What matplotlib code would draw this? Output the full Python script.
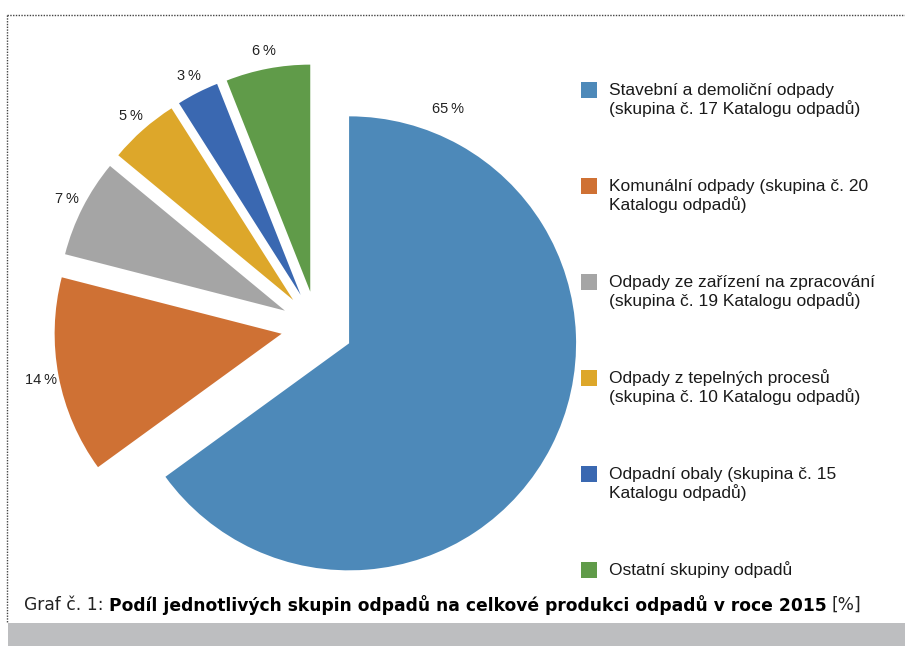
import matplotlib
matplotlib.use('Agg')
import matplotlib.pyplot as plt
from matplotlib.patches import Rectangle
import numpy as np

# ---- data ----
categories = [
    "Stavební a demoliční odpady\n(skupina č. 17 Katalogu odpadů)",
    "Komunální odpady (skupina č. 20\nKatalogu odpadů)",
    "Odpady ze zařízení na zpracování\n(skupina č. 19 Katalogu odpadů)",
    "Odpady z tepelných procesů\n(skupina č. 10 Katalogu odpadů)",
    "Odpadní obaly (skupina č. 15\nKatalogu odpadů)",
    "Ostatní skupiny odpadů",
]
values = [65, 14, 7, 5, 3, 6]
colors = ["#4D89B9", "#CF7134", "#A5A5A5", "#DDA72A", "#3A68B1", "#609B49"]
caption_prefix = "Graf č. 1:"
caption_bold = "Podíl jednotlivých skupin odpadů na celkové produkci odpadů v roce 2015"
caption_suffix = "[%]"

W, H = 905, 646
fig = plt.figure(figsize=(W / 100, H / 100), dpi=100)
ax = fig.add_axes([0, 0, 1, 1])

R = 227
cx, cy = 317, H - 327
expl = 36

lbl_font = ['Liberation Sans', 'DejaVu Sans']
wedges, texts = ax.pie(
    values, colors=colors, startangle=90, counterclock=False,
    explode=[expl] * len(values), radius=R, center=(cx, cy),
    labels=[f"{v}\u2009%" for v in values], labeldistance=1.08,
    wedgeprops={'linewidth': 0}, frame=True,
    textprops={'fontsize': 10.5, 'color': '#222222', 'family': lbl_font},
)
for t in texts:
    t.set_ha('center')
    t.set_va('center')

# first (largest) label positioned above its wedge, as in the original
w0 = wedges[0]
ang = np.deg2rad(67)
texts[0].set_position((w0.center[0] + 1.12 * R * np.cos(ang),
                       w0.center[1] + 1.12 * R * np.sin(ang)))

ax.set_xlim(0, W)
ax.set_ylim(0, H)
ax.set_aspect('equal')
ax.axis('off')

# ---- legend ----
leg_x, sq = 581, 16
y_first, step, line_pitch = 90, 96, 19
for i, (cat, col) in enumerate(zip(categories, colors)):
    yc = y_first + i * step
    ax.add_patch(Rectangle((leg_x, H - yc - sq / 2), sq, sq, color=col, lw=0))
    for j, line in enumerate(cat.split("\n")):
        ax.text(leg_x + 28, H - (yc + j * line_pitch), line, va='center', ha='left',
                fontsize=12.5, color='#1a1a1a', family=lbl_font)

# ---- frame decorations ----
ax.plot([7, W], [H - 15, H - 15], ls=(0, (1, 1)), color='#444444', lw=1.0)
ax.plot([7, 7], [H - 15, H - 623], ls=(0, (1, 1)), color='#444444', lw=1.0)
ax.add_patch(Rectangle((8, 0), W - 8, 23, color='#BDBEC0', lw=0))

# ---- caption ----
cap_font = ['DejaVu Sans']
fig.canvas.draw()
x = 24
yc = H - 605
for s, wt, gap in [(caption_prefix, 'normal', 5), (caption_bold, 'bold', 5), (caption_suffix, 'normal', 0)]:
    t = ax.text(x, yc, s, va='center', ha='left', fontsize=12.35, fontweight=wt,
                color='#000000' if wt == 'bold' else '#222222', family=cap_font)
    fig.canvas.draw()
    bb = t.get_window_extent()
    x = bb.x1 + gap

fig.savefig('out.png', dpi=100)
